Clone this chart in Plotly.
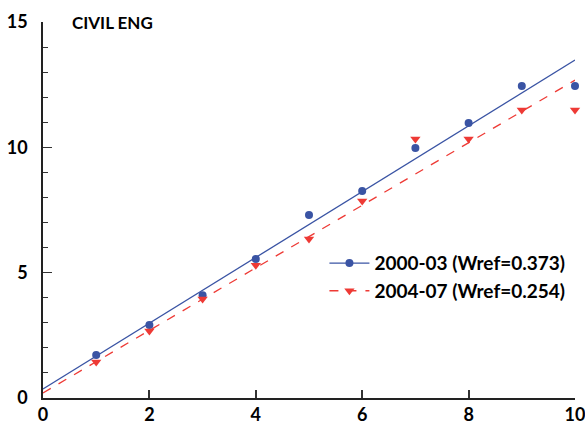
import numpy as np
import plotly.graph_objects as go

x_vals = [1, 2, 3, 4, 5, 6, 7, 8, 9, 10]
blue_vals = [1.72, 2.91, 4.10, 5.55, 7.30, 8.26, 9.97, 10.97, 12.45, 12.45]
red_vals = [1.44, 2.67, 3.95, 5.30, 6.34, 7.86, 10.33, 10.33, 11.49, 11.49]
blue_fit = [0.36, 1.312]   # intercept, slope
red_fit = [0.20, 1.248]
fit_x = [0, 10]
blue_name = "2000-03 (Wref=0.373)"
red_name = "2004-07 (Wref=0.254)"
title_text = "CIVIL ENG"

BLUE = "#3a54a4"
RED = "#ee3a35"
FONT = "Lato"

fig = go.Figure()
bx = np.array(fit_x)
fig.add_trace(go.Scatter(x=bx, y=blue_fit[0] + blue_fit[1] * bx, mode="lines",
                         line=dict(color=BLUE, width=1.3), showlegend=False,
                         hoverinfo="skip", cliponaxis=False))
fig.add_trace(go.Scatter(x=bx, y=red_fit[0] + red_fit[1] * bx, mode="lines",
                         line=dict(color=RED, width=1.3, dash="dash"), showlegend=False,
                         hoverinfo="skip", cliponaxis=False))
fig.add_trace(go.Scatter(x=x_vals, y=blue_vals, mode="markers",
                         marker=dict(color=BLUE, size=8, symbol="circle"),
                         showlegend=False, cliponaxis=False))
fig.add_trace(go.Scatter(x=x_vals, y=red_vals, mode="markers",
                         marker=dict(color=RED, size=9, symbol="triangle-down"),
                         showlegend=False, cliponaxis=False))
# legend entries
fig.add_trace(go.Scatter(x=[None], y=[None], mode="lines+markers", name=blue_name,
                         line=dict(color=BLUE, width=1.3),
                         marker=dict(color=BLUE, size=8, symbol="circle")))
fig.add_trace(go.Scatter(x=[None], y=[None], mode="lines+markers", name=red_name,
                         line=dict(color=RED, width=1.3, dash="dash"),
                         marker=dict(color=RED, size=9, symbol="triangle-down")))

fig.update_layout(
    width=585, height=425,
    margin=dict(l=43, r=10, t=22, b=27, autoexpand=False),
    plot_bgcolor="white", paper_bgcolor="white",
    font=dict(family=FONT, size=18, color="black"),
    showlegend=True,
    legend=dict(x=0.529, y=0.409, xanchor="left", yanchor="top",
                bgcolor="rgba(0,0,0,0)", font=dict(size=19, family=FONT, weight="bold"),
                tracegroupgap=0, itemwidth=40),
    annotations=[dict(text="<b>" + title_text + "</b>", x=0.05, y=1.0, xref="paper", yref="paper",
                      xanchor="left", yanchor="middle", showarrow=False,
                      font=dict(size=17, family=FONT))],
    xaxis=dict(range=[0, 10], tickvals=[0, 2, 4, 6, 8, 10], ticks="inside", ticklen=8,
               tickwidth=1.5, tickcolor="#333", showline=True, linecolor="#222", linewidth=1.5,
               showgrid=False, zeroline=False, automargin=False, ticklabeloverflow="allow",
               tickfont=dict(size=18, family=FONT, weight="bold")),
    yaxis=dict(range=[0, 15], tickvals=[0, 5, 10, 15], ticks="inside", ticklen=9,
               tickwidth=1.3, tickcolor="#333", showline=True, linecolor="#222", linewidth=1.5,
               showgrid=False, zeroline=False, automargin=False, ticklabeloverflow="allow",
               ticklabelstandoff=10,
               minor=dict(dtick=1, ticks="inside", ticklen=5, tickcolor="#333", tickwidth=1.2,
                          showgrid=False),
               tickfont=dict(size=18, family=FONT, weight="bold")),
)

fig.write_html("out.html")
